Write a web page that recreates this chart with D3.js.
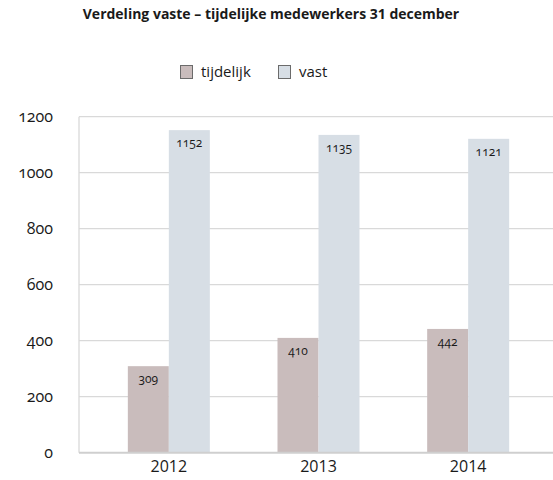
<!DOCTYPE html>
<html>
<head>
<meta charset="utf-8">
<script src="https://cdn.jsdelivr.net/npm/d3@7"></script>
<style>
  body { margin: 0; background: #fff; }
  svg text { font-family: "Open Sans", "DejaVu Sans", sans-serif; fill: #1a1a1a; }
  .num { font-feature-settings: "onum" 1; font-variant-numeric: oldstyle-nums; }
</style>
</head>
<body>
<svg id="chart" width="553" height="480"></svg>
<script>
// chart data
var years = ["2012", "2013", "2014"];
var seriesNames = ["tijdelijk", "vast"];
var tijdelijk = [309, 410, 442];
var vast = [1152, 1135, 1121];
var yTicks = [0, 200, 400, 600, 800, 1000, 1200];
var colors = ["#c9bcbc", "#d7dee5"];

var svg = d3.select("#chart");

var plot = {left: 79, right: 553, top: 116.7, bottom: 452.7};

let y = d3.scaleLinear().domain([0, 1200]).range([plot.bottom, plot.top]);
let x0 = d3.scaleBand().domain(years).range([94, 543]).paddingInner(0).paddingOuter(0);
let x1 = d3.scaleBand().domain(seriesNames).range([0, 82]);

// title
svg.append("text")
    .attr("x", 271).attr("y", 19)
    .attr("text-anchor", "middle")
    .style("font-weight", "bold")
    .style("font-size", "14px")
    .text("Verdeling vaste \u2013 tijdelijke medewerkers 31 december");

// legend
var legendX = [180, 278];
var legend = svg.selectAll(".legend")
    .data(seriesNames)
    .enter().append("g")
    .attr("class", "legend")
    .attr("transform", function(d, i) { return "translate(" + legendX[i] + ",65)"; });
legend.append("rect")
    .attr("x", 0.5).attr("y", 0.5)
    .attr("width", 12).attr("height", 13)
    .attr("fill", function(d, i) { return colors[i]; })
    .attr("stroke", "#6b6b6b");
legend.append("text")
    .attr("x", 21).attr("y", 12)
    .style("font-size", "15px")
    .text(function(d) { return d; });

// gridlines
svg.append("g")
    .selectAll("line")
    .data(yTicks.slice(1))
    .enter().append("line")
    .attr("x1", plot.left).attr("x2", plot.right)
    .attr("y1", function(d) { return y(d); })
    .attr("y2", function(d) { return y(d); })
    .attr("stroke", "#d9d9d9")
    .attr("stroke-width", 1.3);

// left axis line
svg.append("line")
    .attr("x1", plot.left).attr("x2", plot.left)
    .attr("y1", plot.top).attr("y2", plot.bottom)
    .attr("stroke", "#d9d9d9")
    .attr("stroke-width", 1.3);

// y tick labels
var yAxis = d3.axisLeft(y).tickValues(yTicks).tickFormat(d3.format("d")).tickSize(0).tickPadding(0);
svg.append("g")
    .attr("transform", "translate(53,0)")
    .call(yAxis)
    .call(function(g) { g.select(".domain").remove(); })
    .selectAll("text")
    .attr("class", "num")
    .style("font-size", "16px")
    .style("font-family", "\"Open Sans\", sans-serif")
    .attr("fill", "#1a1a1a");

// bars
var rows = years.map(function(yr, i) {
    return {year: yr, values: [
        {key: "tijdelijk", value: tijdelijk[i], color: colors[0]},
        {key: "vast", value: vast[i], color: colors[1]}
    ]};
});

var groups = svg.selectAll(".group")
    .data(rows)
    .enter().append("g")
    .attr("class", "group")
    .attr("transform", function(d) {
        return "translate(" + (x0(d.year) + x0.bandwidth() / 2 - 41) + ",0)";
    });

groups.selectAll("rect")
    .data(function(d) { return d.values; })
    .enter().append("rect")
    .attr("x", function(d) { return x1(d.key); })
    .attr("width", x1.bandwidth())
    .attr("y", function(d) { return y(d.value); })
    .attr("height", function(d) { return plot.bottom - y(d.value); })
    .attr("fill", function(d) { return d.color; });

groups.selectAll(".lbl")
    .data(function(d) { return d.values; })
    .enter().append("text")
    .attr("class", "lbl num")
    .attr("x", function(d) { return x1(d.key) + x1.bandwidth() / 2; })
    .attr("y", function(d) { return y(d.value) + 17; })
    .attr("text-anchor", "middle")
    .style("font-size", "12px")
    .text(function(d) { return d.value; });

// baseline
svg.append("line")
    .attr("x1", plot.left).attr("x2", plot.right)
    .attr("y1", plot.bottom).attr("y2", plot.bottom)
    .attr("stroke", "#cfcfcf")
    .attr("stroke-width", 2);

// x labels
var xAxis = d3.axisBottom(x0).tickSize(0).tickPadding(0);
svg.append("g")
    .attr("transform", "translate(0," + (plot.bottom + 8) + ")")
    .call(xAxis)
    .call(function(g) { g.select(".domain").remove(); })
    .selectAll("text")
    .style("font-size", "16px")
    .style("font-family", "\"Open Sans\", sans-serif")
    .attr("fill", "#1a1a1a");
</script>
</body>
</html>
